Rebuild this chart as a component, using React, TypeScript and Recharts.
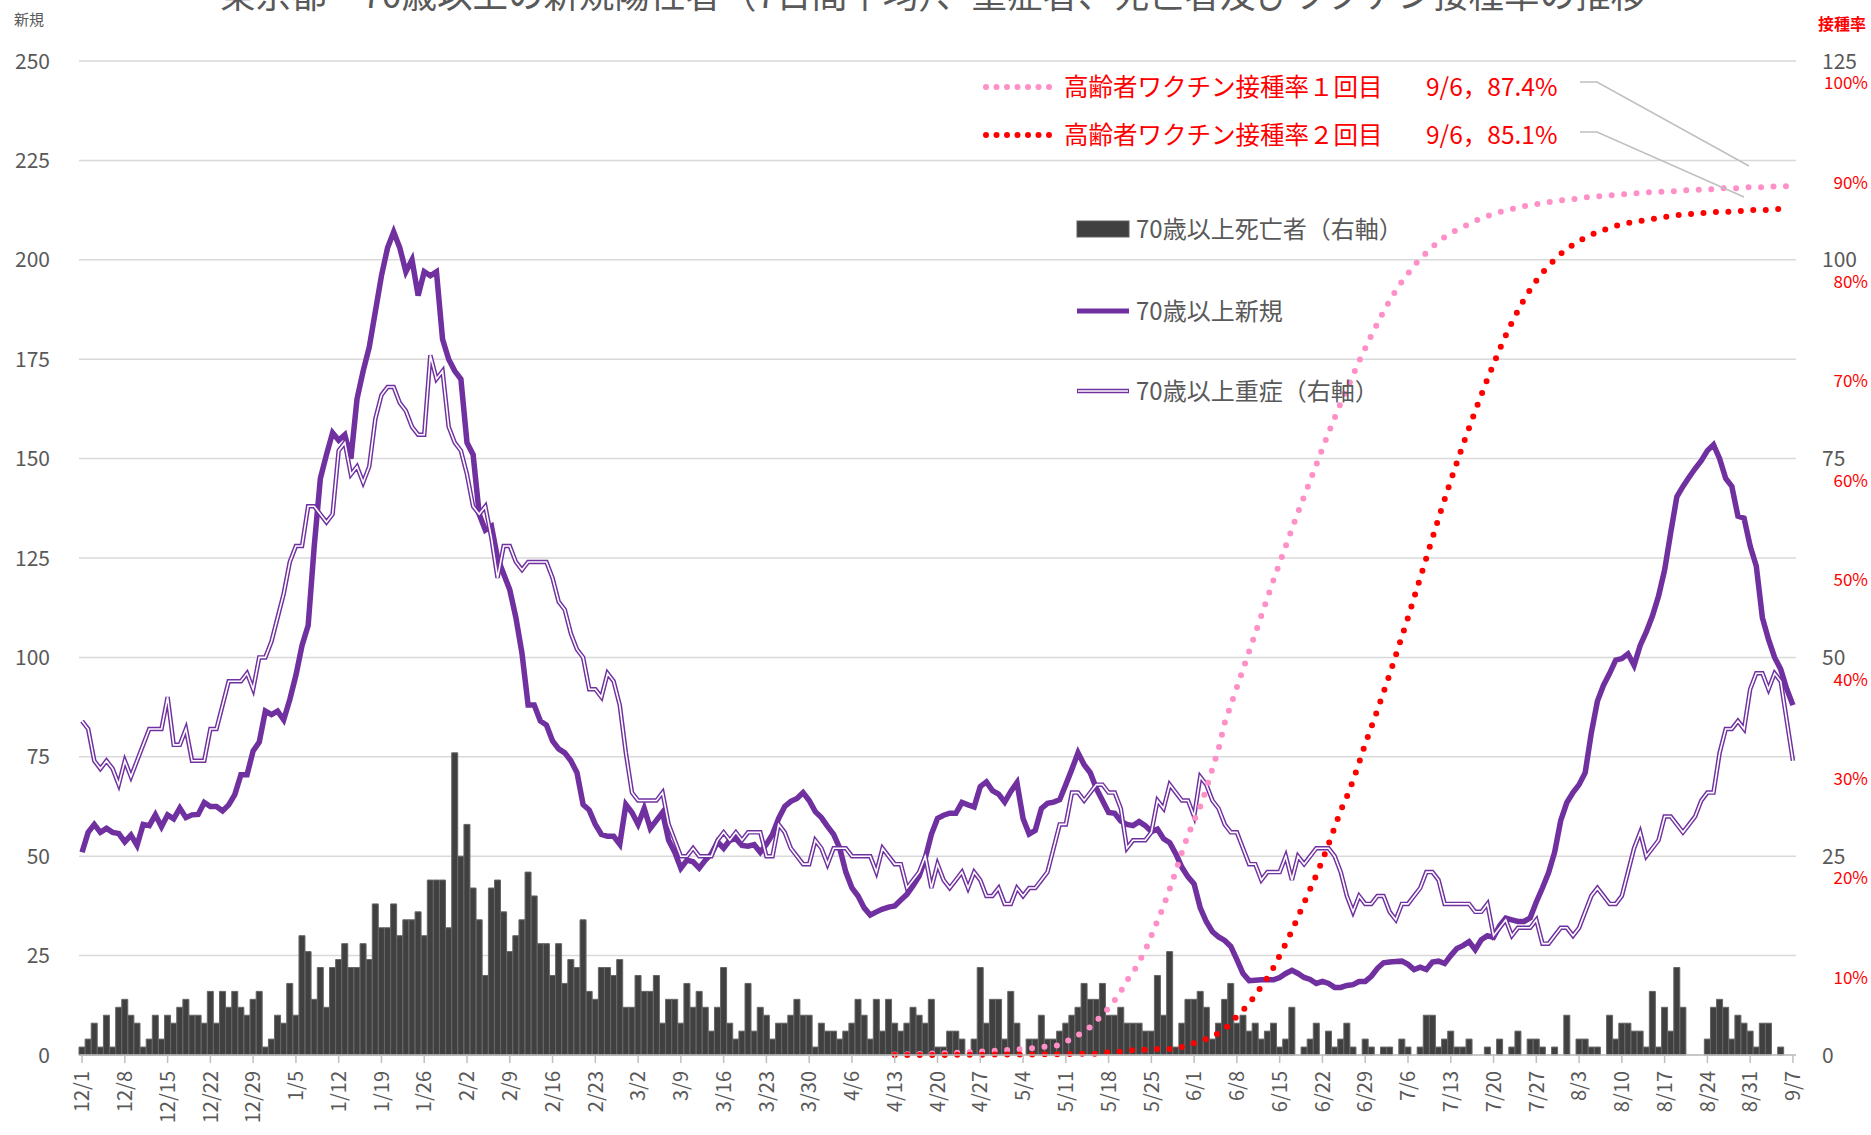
import { Bar, CartesianGrid, ComposedChart, Line, XAxis, YAxis } from 'recharts';

const FONT = "'Noto Sans CJK JP', 'Noto Sans', sans-serif";
const GRAY = '#595959';
const PURPLE = '#7030A0';
const PINK = '#FF8FC7';
const RED = '#FF0000';

// daily categories, 12/1 .. 9/7
const FIRST_DAY = Date.UTC(2020, 11, 1);
const DAY_COUNT = 281;
const DATES = Array.from({ length: DAY_COUNT }, (_, i) => {
  const d = new Date(FIRST_DAY + i * 86400000);
  return `${d.getUTCMonth() + 1}/${d.getUTCDate()}`;
});

// 70歳以上新規 (7日間平均, left axis)
const NEW_CASES = [
  51, 56, 58, 56, 57, 56, 55.7, 53.6, 55.3, 52.7,
  58, 57.7, 60.4, 57.4, 60.4, 59.4, 62.1, 59.7, 60.4, 60.5,
  63.5, 62.5, 62.5, 61.4, 62.9, 65.5, 70.5, 70.5, 76.5, 78.7,
  86.5, 85.6, 86.5, 84.3, 89.4, 95.5, 103, 108, 128, 145,
  151, 156.5, 154.6, 156, 150, 165, 172, 178, 187, 196,
  203, 207, 203, 197, 200, 191, 197, 196, 197, 180,
  175, 172, 170, 154, 151, 136, 132, 133, 125, 121,
  117, 110, 101, 88, 88, 84, 83, 79, 77, 76,
  74, 71, 63, 61.6, 58, 55.5, 55, 55, 53, 63,
  61, 58, 62, 57, 59, 61, 54, 51, 47, 49,
  48.6, 47, 49, 50.6, 53.6, 52, 54, 54.4, 52.7, 52.5,
  52.9, 51, 53, 55.5, 59.5, 62.5, 63.8, 64.5, 66, 64,
  61.2, 59.7, 57.5, 55.5, 52, 46, 42, 40, 37, 35.2,
  36, 36.7, 37.2, 37.5, 39, 40.4, 42.6, 45, 49.5, 55.5,
  59.5, 60.3, 60.8, 60.8, 63.5, 62.9, 62.4, 67.5, 68.7, 66.5,
  65.6, 63.6, 66.3, 68.5, 59.5, 55.6, 56.5, 62, 63.3, 63.6,
  64.2, 68, 71.9, 76, 73, 71, 67, 64, 61, 60.8,
  58.8, 58, 57.7, 58.7, 57.7, 56.2, 56.8, 54.4, 53.4, 50.6,
  47.2, 44.8, 43, 37, 33.5, 31, 29.7, 28.8, 27.3, 24,
  20.5, 18.7, 18.8, 18.9, 18.9, 18.9, 19.5, 20.5, 21.3, 20.5,
  19.5, 19, 18, 18.5, 18, 17, 17, 17.5, 17.7, 18.5,
  18.5, 19.8, 21.8, 23.2, 23.4, 23.5, 23.6, 22.8, 21.5, 22.1,
  21.5, 23.4, 23.6, 23, 25, 26.8, 27.5, 28.5, 26.5, 29,
  30, 29.6, 32.5, 34.4, 34, 33.6, 33.6, 34.5, 38.5, 42,
  45.8, 51, 59, 63.5, 66, 68, 71, 81, 89, 93,
  96, 99.3, 99.7, 100.9, 98, 103, 106.4, 110.4, 115.4, 122,
  131.4, 140.4, 143, 145.3, 147.5, 149.5, 152, 153.5, 150, 145,
  143, 135.5, 135, 128, 123, 110, 104.5, 100, 97, 92,
  88,
];

// 70歳以上重症 (right axis)
const SEVERE = [
  42, 41, 37, 36, 37, 36, 34, 37, 35, 37,
  39, 41, 41, 41, 45, 39, 39, 41, 37, 37,
  37, 41, 41, 44, 47, 47, 47, 48, 46, 50,
  50, 52, 55, 58, 62, 64, 64, 69, 69, 68,
  67, 68, 76, 77, 73, 74, 72, 74, 80, 83,
  84, 84, 82, 81, 79, 78, 78, 88, 85, 86,
  79, 77, 76, 73, 69, 68, 69, 65, 60, 64,
  64, 62, 61, 62, 62, 62, 62, 60, 57, 56,
  53, 51, 50, 46, 46, 45, 48, 47, 44, 38,
  33, 32, 32, 32, 32, 33, 29, 27, 25, 25,
  26, 25, 25, 25, 27, 28, 27, 28, 27, 28,
  28, 28, 25, 25, 29, 28, 26, 25, 24, 24,
  27, 26, 24, 26, 26, 26, 25, 25, 25, 25,
  23, 26, 25, 24, 24, 21, 22, 23, 25, 21,
  24, 22, 21, 22, 23, 21, 23, 22, 20, 20,
  21, 19, 19, 21, 20, 21, 21, 22, 23, 26,
  29, 29, 33, 33, 32, 33, 34, 34, 33, 33,
  31, 26, 27, 27, 27, 28, 32, 31, 34, 33,
  32, 32, 30, 35, 34, 32, 31, 29, 28, 28,
  26, 24, 24, 22, 23, 23, 23, 25, 22, 25,
  24, 25, 26, 26, 26, 25, 23, 20, 18, 20,
  19, 19, 20, 20, 18, 17, 19, 19, 20, 21,
  23, 23, 22, 19, 19, 19, 19, 19, 18, 18,
  19, 15, 16, 17, 15, 16, 16, 16, 17, 14,
  14, 15, 16, 16, 15, 16, 18, 20, 21, 20,
  19, 19, 20, 23, 26, 28, 25, 26, 27, 30,
  30, 29, 28, 29, 30, 32, 33, 33, 38, 41,
  41, 42, 41, 46, 48, 48, 46, 48, 47, 42,
  37,
];

// 70歳以上死亡者 (right axis)
const DEATHS = [
  1, 2, 4, 1, 5, 1, 6, 7, 5, 4,
  1, 2, 5, 2, 5, 4, 6, 7, 5, 5,
  4, 8, 4, 8, 6, 8, 6, 5, 7, 8,
  1, 2, 5, 4, 9, 5, 15, 13, 7, 11,
  6, 11, 12, 14, 11, 11, 14, 12, 19, 16,
  16, 19, 15, 17, 17, 18, 15, 22, 22, 22,
  16, 38, 25, 29, 21, 17, 10, 21, 22, 18,
  13, 15, 17, 23, 20, 14, 14, 10, 14, 9,
  12, 11, 17, 8, 7, 11, 11, 10, 12, 6,
  6, 10, 8, 8, 10, 4, 7, 7, 4, 9,
  6, 8, 6, 3, 6, 11, 4, 2, 3, 9,
  3, 6, 5, 2, 4, 4, 5, 7, 5, 5,
  1, 4, 3, 3, 2, 3, 4, 7, 5, 2,
  7, 3, 7, 4, 3, 4, 6, 5, 4, 7,
  1, 1, 3, 3, 2, 0, 2, 11, 4, 7,
  7, 2, 8, 4, 0, 2, 2, 5, 2, 2,
  3, 4, 5, 6, 9, 7, 7, 9, 5, 5,
  6, 4, 4, 4, 3, 3, 10, 5, 13, 1,
  4, 7, 7, 8, 6, 2, 4, 7, 9, 4,
  5, 3, 4, 2, 3, 4, 1, 2, 6, 0,
  1, 2, 4, 0, 3, 1, 2, 4, 1, 0,
  2, 1, 0, 1, 1, 0, 2, 1, 0, 1,
  5, 5, 1, 2, 3, 1, 1, 2, 0, 0,
  1, 0, 2, 0, 1, 3, 0, 2, 2, 1,
  0, 1, 0, 5, 0, 2, 2, 1, 1, 0,
  5, 2, 4, 4, 3, 3, 1, 8, 1, 6,
  3, 11, 6, 0, 0, 0, 2, 6, 7, 6,
  2, 5, 4, 3, 1, 4, 4, 0, 1, 0,
  0,
];

// 高齢者ワクチン接種率 (%), from 4/13 to 9/6
const VAC_FIRST_DATE = '4/13';
const VAC_DOSE1 = [
  0.05, 0.06, 0.07, 0.08, 0.1, 0.12, 0.14,
  0.16, 0.18, 0.2, 0.22, 0.25, 0.3, 0.33, 0.35, 0.37, 0.4,
  0.45, 0.5, 0.52, 0.55, 0.6, 0.65, 0.72, 0.8, 0.85, 0.9,
  1.0, 1.3, 1.7, 2.0, 2.4, 2.8, 3.4, 4.1, 4.7, 5.5,
  6.4, 7.5, 8.3, 9.4, 10.5, 12.0, 13.5, 15.0, 16.7, 18.5,
  20.4, 22.1, 23.6, 25.0, 26.8, 28.8, 30.8, 33.4, 35.2, 37.0,
  38.8, 40.6, 42.4, 44.2, 46.0, 47.8, 49.5, 51.2, 52.9, 54.6,
  56.2, 57.8, 59.4, 61.0, 62.6, 64.1, 65.6, 67.0, 68.4, 69.8,
  71.1, 72.4, 73.6, 74.8, 75.9, 76.9, 77.8, 78.6, 79.4, 80.1,
  80.7, 81.3, 81.8, 82.3, 82.7, 83.0, 83.3, 83.6, 83.9, 84.2,
  84.4, 84.6, 84.8, 85.0, 85.1, 85.3, 85.4, 85.5, 85.6, 85.7,
  85.8, 85.9, 86.0, 86.0, 86.1, 86.2, 86.3, 86.3, 86.4, 86.4,
  86.5, 86.5, 86.6, 86.6, 86.7, 86.7, 86.8, 86.8, 86.8, 86.9,
  86.9, 86.9, 87.0, 87.0, 87.0, 87.1, 87.1, 87.1, 87.2, 87.2,
  87.2, 87.2, 87.3, 87.3, 87.3, 87.3, 87.3, 87.4, 87.4, 87.4,
];
const VAC_DOSE2 = [
  0, 0, 0, 0, 0, 0, 0.01,
  0.01, 0.01, 0.02, 0.02, 0.02, 0.03, 0.03, 0.03, 0.04, 0.04,
  0.04, 0.05, 0.05, 0.05, 0.06, 0.06, 0.06, 0.07, 0.07, 0.08,
  0.08, 0.09, 0.1, 0.11, 0.12, 0.12, 0.14, 0.2, 0.27, 0.3,
  0.34, 0.42, 0.5, 0.52, 0.54, 0.57, 0.6, 0.6, 0.6, 0.7,
  0.8, 1.0, 1.2, 1.4, 1.6, 1.9, 2.2, 2.6, 3.2, 3.9,
  4.5, 5.2, 6.0, 6.9, 7.8, 8.8, 10.0, 11.2, 12.5, 13.9,
  15.3, 16.7, 18.1, 19.6, 21.2, 22.9, 24.6, 26.0, 27.6, 29.4,
  31.3, 33.0, 34.7, 36.5, 38.3, 40.2, 42.1, 44.0, 46.0, 48.0,
  50.0, 52.0, 54.0, 55.9, 57.8, 59.6, 61.4, 63.1, 64.8, 66.4,
  68.0, 69.5, 71.0, 72.4, 73.7, 74.9, 76.0, 77.0, 77.9, 78.7,
  79.4, 80.0, 80.6, 81.1, 81.5, 81.9, 82.2, 82.5, 82.8, 83.0,
  83.2, 83.4, 83.6, 83.7, 83.8, 83.9, 84.0, 84.1, 84.2, 84.3,
  84.4, 84.5, 84.5, 84.6, 84.6, 84.7, 84.7, 84.8, 84.8, 84.8,
  84.9, 84.9, 84.9, 85.0, 85.0, 85.0, 85.0, 85.1, 85.1, 85.1,
];

const LEFT_TICKS = [0, 25, 50, 75, 100, 125, 150, 175, 200, 225, 250];
const RIGHT_TICKS = [0, 12.5, 25, 37.5, 50, 62.5, 75, 87.5, 100, 112.5, 125];

const vacStart = DATES.indexOf(VAC_FIRST_DATE);
const data = DATES.map((date, i) => ({
  date,
  newCases: NEW_CASES[i],
  severe: SEVERE[i],
  deaths: DEATHS[i],
  vac1: i >= vacStart ? VAC_DOSE1[i - vacStart] ?? null : null,
  vac2: i >= vacStart ? VAC_DOSE2[i - vacStart] ?? null : null,
}));

const LeftTick = ({ x, y, payload }: any) => (
  <text x={x} y={y} dy="0.36em" textAnchor="end" fill={GRAY} fontSize={21} fontFamily={FONT}>
    {payload.value}
  </text>
);

// right side: severe / deaths numbers every 25, vaccination % every 10
const RIGHT_NUM_X = 1822;
const RIGHT_PCT_X = 1868;
const RightTick = ({ y, payload }: any) => {
  const v = payload.value;
  const pct = Math.round((v / 125) * 100);
  return (
    <g>
      {v % 25 === 0 && (
        <text x={RIGHT_NUM_X} y={y} dy="0.36em" textAnchor="start" fill={GRAY} fontSize={21} fontFamily={FONT}>
          {v}
        </text>
      )}
      {pct > 0 && (
        <text x={RIGHT_PCT_X} y={y + 22} dy="0.36em" textAnchor="end" fill={RED} fontSize={17} fontFamily={FONT}>
          {pct}%
        </text>
      )}
    </g>
  );
};

const DateTick = ({ x, y, payload }: any) => (
  <g transform={`translate(${x},${y})`}>
    <text transform="rotate(-90)" x={-6} y={0} dy="0.36em" textAnchor="end" fill={GRAY} fontSize={20} fontFamily={FONT}>
      {payload.value}
    </text>
  </g>
);

const Overlay = () => (
  <svg width={1871} height={1135} style={{ position: 'absolute', left: 0, top: 0, pointerEvents: 'none' }}>
    <text x={933} y={8} textAnchor="middle" fill={GRAY} fontSize={35.5} fontFamily={FONT}>
      東京都　70歳以上の新規陽性者（7日間平均）、重症者、死亡者及びワクチン接種率の推移
    </text>
    <text x={29} y={20} dy="0.36em" textAnchor="middle" fill={GRAY} fontSize={15} fontFamily={FONT}>
      新規
    </text>
    <text x={1842} y={24} dy="0.36em" textAnchor="middle" fill={RED} fontSize={16} fontWeight="bold" fontFamily={FONT}>
      接種率
    </text>

    {/* vaccination legend */}
    <line x1={986} y1={87} x2={1050} y2={87} stroke={PINK} strokeWidth={6} strokeDasharray="0 10.5" strokeLinecap="round" />
    <text x={1064} y={87} dy="0.36em" fill={RED} fontSize={24.5} fontFamily={FONT}>高齢者ワクチン接種率１回目</text>
    <text x={1426} y={87} dy="0.36em" fill={RED} fontSize={24.5} fontFamily={FONT}>9/6，87.4%</text>
    <line x1={986} y1={135} x2={1050} y2={135} stroke={RED} strokeWidth={6} strokeDasharray="0 10.5" strokeLinecap="round" />
    <text x={1064} y={135} dy="0.36em" fill={RED} fontSize={24.5} fontFamily={FONT}>高齢者ワクチン接種率２回目</text>
    <text x={1426} y={135} dy="0.36em" fill={RED} fontSize={24.5} fontFamily={FONT}>9/6，85.1%</text>
    <polyline points="1580,82 1597,82 1749,166" fill="none" stroke="#BFBFBF" strokeWidth={1.5} />
    <polyline points="1580,132 1597,132 1744,197" fill="none" stroke="#BFBFBF" strokeWidth={1.5} />

    {/* series legend */}
    <rect x={1077} y={221} width={52} height={16} fill="#404040" stroke="#606060" />
    <text x={1136} y={229} dy="0.36em" fill={GRAY} fontSize={24} fontFamily={FONT}>70歳以上死亡者（右軸）</text>
    <line x1={1077} y1={311} x2={1129} y2={311} stroke={PURPLE} strokeWidth={5} />
    <text x={1136} y={311} dy="0.36em" fill={GRAY} fontSize={24} fontFamily={FONT}>70歳以上新規</text>
    <line x1={1077} y1={391} x2={1129} y2={391} stroke={PURPLE} strokeWidth={4.5} />
    <line x1={1078} y1={391} x2={1128} y2={391} stroke="#FFFFFF" strokeWidth={1.6} />
    <text x={1136} y={391} dy="0.36em" fill={GRAY} fontSize={24} fontFamily={FONT}>70歳以上重症（右軸）</text>
  </svg>
);

export default function App() {
  return (
    <div style={{ position: 'relative', width: 1871, height: 1135, overflow: 'hidden', background: '#fff' }}>
      <style>{'body{margin:0}'}</style>
      <ComposedChart
        width={1871}
        height={1135}
        data={data}
        margin={{ top: 61, right: 0, bottom: 0, left: 0 }}
        barCategoryGap={0}
        barGap={0}
      >
        <CartesianGrid yAxisId="left" vertical={false} stroke="#D9D9D9" strokeWidth={1.5} />
        <XAxis
          dataKey="date"
          height={80}
          interval={6}
          tickSize={8}
          tickMargin={2}
          axisLine={{ stroke: '#BFBFBF', strokeWidth: 1.5 }}
          tickLine={{ stroke: '#BFBFBF', strokeWidth: 1.5 }}
          tick={<DateTick />}
        />
        <YAxis
          yAxisId="left"
          width={79}
          domain={[0, 250]}
          ticks={LEFT_TICKS}
          axisLine={false}
          tickLine={false}
          tickSize={6}
          tickMargin={23}
          tick={<LeftTick />}
        />
        <YAxis
          yAxisId="right"
          orientation="right"
          width={75}
          domain={[0, 125]}
          ticks={RIGHT_TICKS}
          axisLine={false}
          tickLine={false}
          tick={<RightTick />}
        />
        <YAxis yAxisId="pct" orientation="right" hide domain={[0, 100]} />
        <Bar yAxisId="right" dataKey="deaths" fill="#404040" stroke="#666666" strokeWidth={1} isAnimationActive={false} />
        <Line yAxisId="left" dataKey="newCases" type="linear" stroke={PURPLE} strokeWidth={5.5} dot={false} isAnimationActive={false} />
        <Line yAxisId="right" dataKey="severe" type="linear" stroke={PURPLE} strokeWidth={4.5} dot={false} isAnimationActive={false} />
        <Line yAxisId="right" dataKey="severe" type="linear" stroke="#FFFFFF" strokeWidth={1.6} dot={false} isAnimationActive={false} />
        <Line
          yAxisId="pct"
          dataKey="vac1"
          type="linear"
          stroke={PINK}
          strokeWidth={6}
          strokeDasharray="0 12.5"
          strokeLinecap="round"
          dot={false}
          isAnimationActive={false}
        />
        <Line
          yAxisId="pct"
          dataKey="vac2"
          type="linear"
          stroke={RED}
          strokeWidth={6}
          strokeDasharray="0 12.5"
          strokeLinecap="round"
          dot={false}
          isAnimationActive={false}
        />
      </ComposedChart>
      <Overlay />
    </div>
  );
}
